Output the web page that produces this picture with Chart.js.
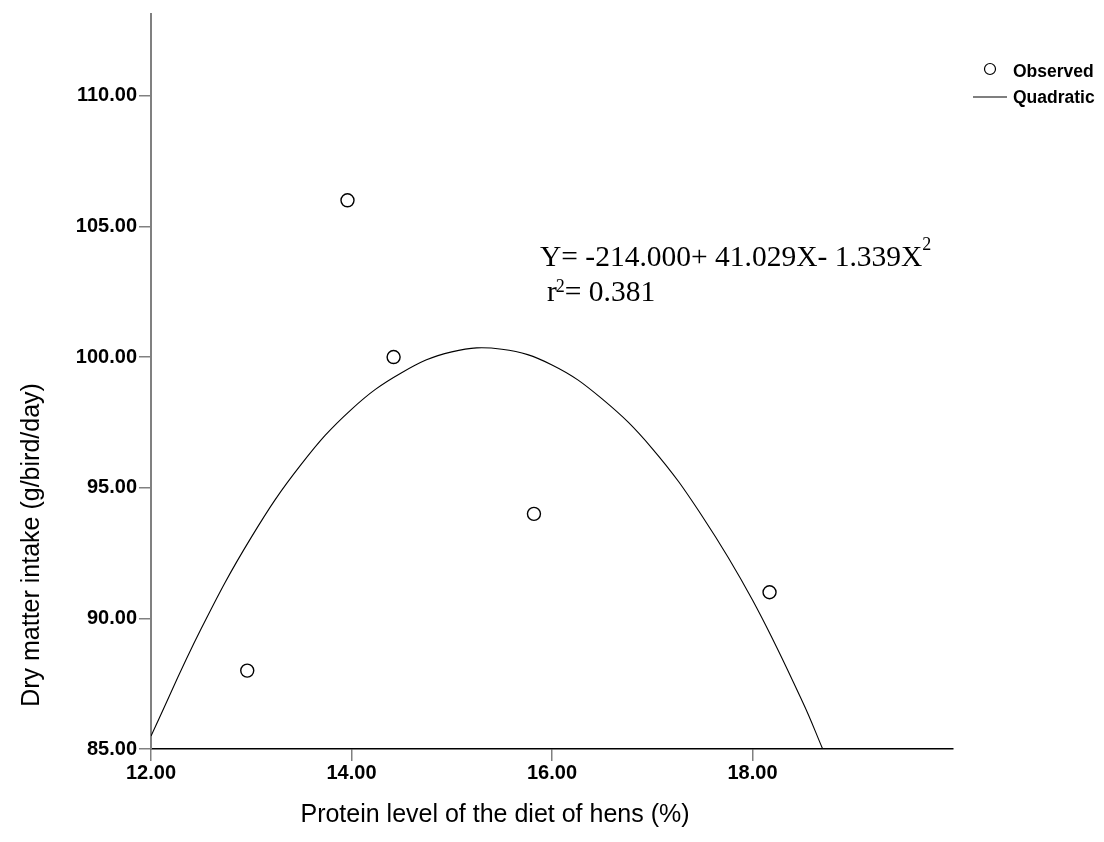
<!DOCTYPE html>
<html>
<head>
<meta charset="utf-8">
<script src="https://cdn.jsdelivr.net/npm/chart.js@4.4.1/dist/chart.umd.min.js"></script>
<style>
body{margin:0;background:#fff;}
#wrap{width:1104px;height:842px;}
</style>
</head>
<body>
<div id="wrap"><canvas id="dmiChart" width="1104" height="842"></canvas></div>
<script>
// observed points
const proteinLevel = [12.96, 13.96, 14.42, 15.82, 18.17];
const dryMatterIntake = [88, 106, 100, 94, 91];

// quadratic fit line
const curveX = [12, 12.5, 13, 13.5, 14, 14.5, 15, 15.5, 16, 16.5, 17, 17.5, 18, 18.5, 18.7];
const curveY = [85.5, 89.6, 93.1, 95.9, 98.0, 99.4, 100.2, 100.3, 99.7, 98.4, 96.5, 93.9, 90.7, 86.8, 85.0];

const xTicks = [12, 14, 16, 18];
const yTicks = [85, 90, 95, 100, 105, 110];

const SANS = '"Liberation Sans", Arial, sans-serif';
const SERIF = '"Liberation Serif", "Times New Roman", serif';

const overlayText = {
  id: 'overlayText',
  afterDraw(chart) {
    const ctx = chart.ctx;
    ctx.save();
    ctx.fillStyle = '#000';
    ctx.strokeStyle = '#000';

    // axis titles
    ctx.font = '25px ' + SANS;
    ctx.textAlign = 'center';
    ctx.textBaseline = 'middle';
    ctx.fillText('Protein level of the diet of hens (%)', 495, 815);
    ctx.save();
    ctx.translate(32, 545);
    ctx.rotate(-Math.PI / 2);
    ctx.fillText('Dry matter intake (g/bird/day)', 0, 0);
    ctx.restore();

    // equation
    ctx.textAlign = 'left';
    ctx.textBaseline = 'alphabetic';
    ctx.font = '29.5px ' + SERIF;
    let s1 = 'Y= -214.000+ 41.029X- 1.339X';
    ctx.fillText(s1, 540, 266);
    let w1 = ctx.measureText(s1).width;
    ctx.font = '18px ' + SERIF;
    ctx.fillText('2', 540 + w1, 250);
    ctx.font = '29.5px ' + SERIF;
    ctx.fillText('r', 547, 301);
    let wr = ctx.measureText('r').width;
    ctx.font = '18px ' + SERIF;
    ctx.fillText('2', 547 + wr - 1, 292);
    let w2 = ctx.measureText('2').width;
    ctx.font = '29.5px ' + SERIF;
    ctx.fillText('= 0.381', 547 + wr + w2 - 1, 301);

    // legend
    ctx.lineWidth = 1.2;
    ctx.beginPath();
    ctx.arc(990, 69, 5.5, 0, Math.PI * 2);
    ctx.stroke();
    ctx.beginPath();
    ctx.moveTo(973, 97);
    ctx.lineTo(1007, 97);
    ctx.stroke();
    ctx.font = 'bold 17.5px ' + SANS;
    ctx.textBaseline = 'middle';
    ctx.fillText('Observed', 1013, 72);
    ctx.fillText('Quadratic', 1013, 98);
    ctx.restore();
  }
};

const tickFont = {family: SANS, size: 20, weight: 'bold'};

new Chart(document.getElementById('dmiChart'), {
  type: 'scatter',
  data: {
    datasets: [{
      label: 'Observed',
      data: proteinLevel.map((x, i) => ({x: x, y: dryMatterIntake[i]})),
      pointStyle: 'circle',
      pointRadius: 6.5,
      pointBackgroundColor: '#fff',
      pointBorderColor: '#000',
      pointBorderWidth: 1.4
    }, {
      label: 'Quadratic',
      data: curveX.map((x, i) => ({x: x, y: curveY[i]})),
      showLine: true,
      tension: 0.4,
      pointRadius: 0,
      borderColor: '#000',
      borderWidth: 1.1,
      fill: false
    }]
  },
  options: {
    responsive: false,
    animation: false,
    layout: {padding: {top: 10, right: 151, bottom: 0, left: 0}},
    plugins: {legend: {display: false}, tooltip: {enabled: false}},
    scales: {
      x: {
        type: 'linear',
        min: 12,
        max: 20,
        grid: {drawOnChartArea: false, tickLength: 12, color: '#808080', lineWidth: 1.5},
        border: {color: '#000', width: 1.5},
        ticks: {font: tickFont, color: '#000', padding: 0, maxRotation: 0, autoSkip: false,
          callback: v => Number(v).toFixed(2)},
        afterBuildTicks: s => { s.ticks = xTicks.map(v => ({value: v})); },
        afterFit: s => { s.height = 93; }
      },
      y: {
        type: 'linear',
        min: 85,
        max: 113.13,
        grid: {drawOnChartArea: false, tickLength: 12, color: '#808080', lineWidth: 1.5},
        border: {color: '#808080', width: 2},
        ticks: {font: tickFont, color: '#000', padding: 2, autoSkip: false,
          callback: v => Number(v).toFixed(2)},
        afterBuildTicks: s => { s.ticks = yTicks.map(v => ({value: v})); },
        afterFit: s => { s.width = 151; }
      }
    }
  },
  plugins: [overlayText]
});
</script>
</body>
</html>
